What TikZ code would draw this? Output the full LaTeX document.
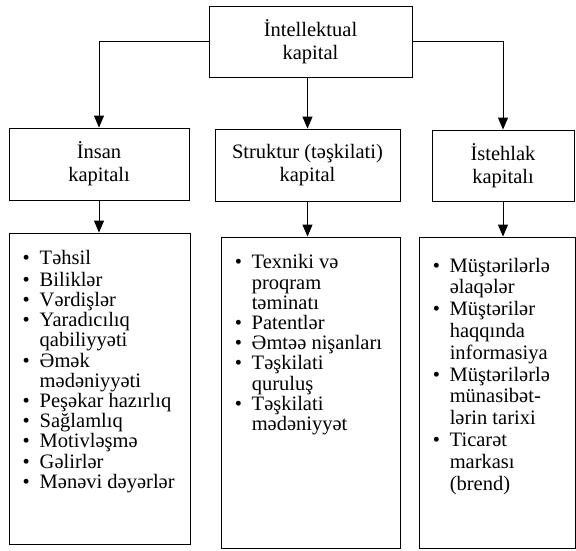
\documentclass[tikz,border=0pt]{standalone}
\usepackage{fontspec}
\setmainfont{Liberation Serif}
\usetikzlibrary{positioning,arrows.meta}

\newcommand{\bl}{\makebox[17pt][l]{•}}
\newcommand{\cn}{\hspace*{17pt}}

\begin{document}
\begin{tikzpicture}[x=1pt, y=-1pt,
    box/.style={draw, line width=0.9pt, inner sep=0pt},
    title/.style={box, align=center, font=\fontsize{20.5}{23}\selectfont},
    list/.style={inner sep=0pt, align=left, font=\fontsize{20.5}{20.2}\selectfont},
    arr/.style={-{Triangle[length=12pt,width=10pt]}, line width=0.9pt}
  ]
  \useasboundingbox (0,0) rectangle (576,550);

  % Top
  \node[title, minimum width=203pt, minimum height=71pt] (intel) at (310.5,41.5) {İntellektual\\kapital};

  % Kinds of capital
  \node[title, minimum width=180pt, minimum height=72pt] (insan) at (99,164) {İnsan\\kapitalı};
  \node[title, minimum width=185pt, minimum height=72pt] (struktur) at (307.5,165) {Struktur (təşkilati)\\kapital};
  \node[title, minimum width=142pt, minimum height=71pt] (istehlak) at (503,165.5) {İstehlak\\kapitalı};

  % Components
  \node[box, minimum width=181pt, minimum height=311pt] (insanbox) at (99.5,388.5) {};
  \node[box, minimum width=179pt, minimum height=311pt] (strukturbox) at (310.5,392.5) {};
  \node[box, minimum width=156pt, minimum height=311pt] (istehlakbox) at (497,392.5) {};

  \node[list, below right=18pt and 14pt of insanbox.north west] (insanlist)
    {\bl\strut Təhsil\\ \bl Biliklər\\ \bl Vərdişlər\\ \bl Yaradıcılıq\\ \cn qabiliyyəti\\
     \bl Əmək\\ \cn mədəniyyəti\\ \bl Peşəkar hazırlıq\\ \bl Sağlamlıq\\ \bl Motivləşmə\\
     \bl Gəlirlər\\ \bl Mənəvi dəyərlər};
  \node[list, below right=18pt and 14pt of strukturbox.north west] (strukturlist)
    {\bl\strut Texniki və\\ \cn proqram\\ \cn təminatı\\ \bl Patentlər\\ \bl Əmtəə nişanları\\
     \bl Təşkilati\\ \cn quruluş\\ \bl Təşkilati\\ \cn mədəniyyət};
  \node[list, font=\fontsize{20.5}{21.8}\selectfont, below right=20pt and 14pt of istehlakbox.north west] (istehlaklist)
    {\bl\strut Müştərilərlə\\ \cn əlaqələr\\ \bl Müştərilər\\ \cn haqqında\\ \cn informasiya\\
     \bl Müştərilərlə\\ \cn münasibət-\\ \cn lərin tarixi\\ \bl Ticarət\\ \cn markası\\ \cn (brend)};

  \draw[arr] (intel.west) -| (insan.north);
  \draw[arr] (struktur.north |- intel.south) -- (struktur.north);
  \draw[arr] (intel.east) -| (istehlak.north);

  \draw[arr] (insan.south) -- (insan.south |- insanbox.north);
  \draw[arr] (struktur.south) -- (struktur.south |- strukturbox.north);
  \draw[arr] (istehlak.south) -- (istehlak.south |- istehlakbox.north);
\end{tikzpicture}
\end{document}
